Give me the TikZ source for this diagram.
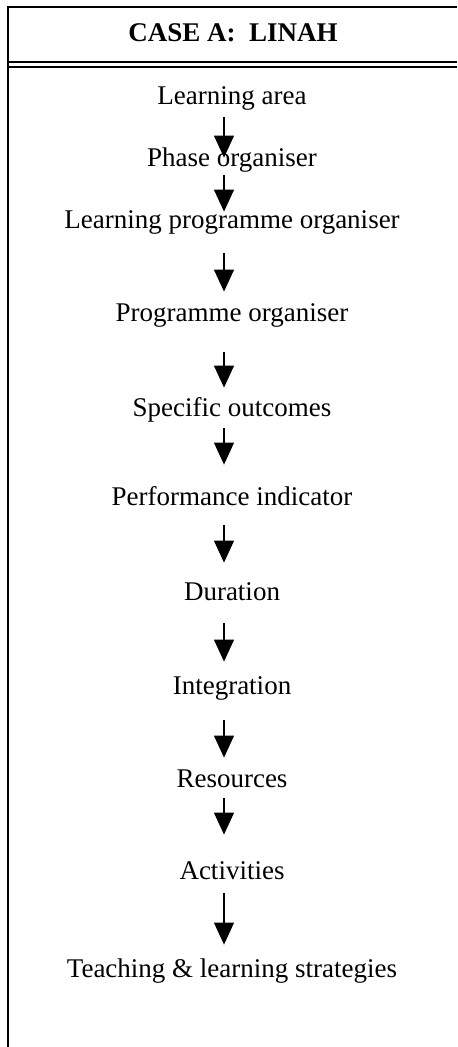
\documentclass[tikz,border=0pt]{standalone}
\usepackage{fontspec}
\setmainfont{Liberation Serif}
\usetikzlibrary{arrows.meta}

\begin{document}
\begin{tikzpicture}[
  x=0.5pt, y=-0.5pt,
  item/.style={inner sep=0pt,text height=9.5pt,text depth=3pt,font=\fontsize{13.5}{16}\selectfont},
  head/.style={inner sep=0pt,font=\fontsize{13.5}{16}\selectfont\bfseries},
  flow/.style={line width=0.6pt,-{Triangle[width=10pt,length=11pt]},transform canvas={xshift=-4pt}},
  frame/.style={line width=1pt}
]
  \useasboundingbox (0,0) rectangle (457,1047);
  \draw[frame] (457,7) -- (8,7) -- (8,1047);
  \draw[line width=0.8pt] (8,62) -- (457,62);
  \draw[line width=0.8pt] (8,67) -- (457,67);
  \node[head] (title) at (233,33) {CASE A:\ \ LINAH};
  \node[item] (area) at (232,98) {Learning area};
  \node[item] (phase) at (232,160) {Phase organiser};
  \node[item] (lpo) at (232,222) {Learning programme organiser};
  \node[item] (po) at (232,315) {Programme organiser};
  \node[item] (so) at (232,410) {Specific outcomes};
  \node[item] (pi) at (232,499) {Performance indicator};
  \node[item] (dur) at (232,594) {Duration};
  \node[item] (integ) at (232,688) {Integration};
  \node[item] (res) at (232,781) {Resources};
  \node[item] (act) at (232,873) {Activities};
  \node[item] (teach) at (232,971) {Teaching \& learning strategies};
  \draw[flow,shorten <=3.25pt,shorten >=-5.25pt] (area) -- (phase);
  \draw[flow,shorten <=1.25pt,shorten >=-1.25pt] (phase) -- (lpo);
  \draw[flow,shorten <=9.25pt,shorten >=5.25pt] (lpo) -- (po);
  \draw[flow,shorten <=12.25pt,shorten >=4.75pt] (po) -- (so);
  \draw[flow,shorten <=2.75pt,shorten >=10.75pt] (so) -- (pi);
  \draw[flow,shorten <=6.75pt,shorten >=9.25pt] (pi) -- (dur);
  \draw[flow,shorten <=8.25pt,shorten >=6.75pt] (dur) -- (integ);
  \draw[flow,shorten <=9.75pt,shorten >=5.25pt] (integ) -- (res);
  \draw[flow,shorten <=2.25pt,shorten >=12.75pt] (res) -- (act);
  \draw[flow,shorten <=3.75pt,shorten >=6.75pt] (act) -- (teach);
\end{tikzpicture}
\end{document}
